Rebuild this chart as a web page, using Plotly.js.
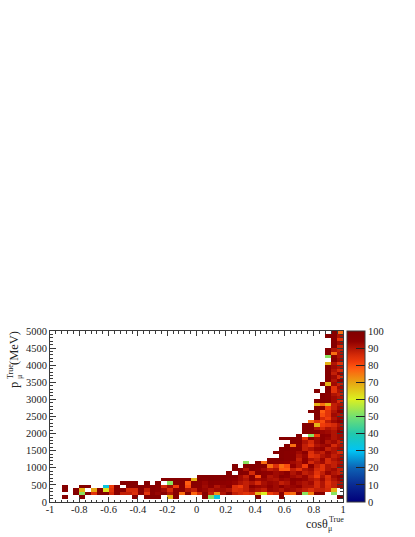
<!DOCTYPE html>
<html>
<head>
<meta charset="utf-8">
<script src="https://cdn.plot.ly/plotly-3.0.1.min.js"></script>
<style>
  html, body { margin: 0; padding: 0; background: #fff; }
  #chart { width: 415px; height: 537px; }
</style>
</head>
<body>
<div id="chart"></div>
<script>
// first filled column of each momentum bin (100 MeV bins, 50 cos bins)
const rowStart = [0, 2, 4, 2, 2, 12, 19, 25, 30, 31, 31, 33, 37, 39, 38, 39, 40, 41, 39, 42, 43, 43, 43, 44, 45,
  45, 44, 45, 45, 45, 46, 46, 45, 47, 46, 47, 47, 47, 47, 47, 47, 47, 47, 47, 47, 48, 48, 48, 47, 48];

// efficiency (%) per bin, null = empty bin
const rowValues = [
  [],
  [98,null,null,98,null,null,null,null,null,null,null,null,98,null,98,98,98,null,68,98,null,null,null,null,98,52,33,null,null,null,null,null,null,98,null,null,null,98,null,null,null,null,null,null,null,null,null,98],
  [98,52,98,84,98,99,86,97,88,88,85,97,84,96,93,96,90,97,76,98,77,86,97,88,72,90,98,88,86,84,86,68,60,82,86,97,78,76,97,52,74,97,97,null,52,null],
  [98,null,98,68,null,70,98,62,84,97,97,86,86,97,88,97,95,92,86,96,96,90,88,94,93,90,92,92,90,85,86,88,92,90,88,93,92,90,93,92,90,88,85,88,88,86,68,null],
  [98,null,null,98,98,null,null,33,82,97,null,98,98,98,95,98,96,86,92,82,97,80,96,96,92,95,90,93,96,85,82,88,96,93,92,94,92,96,92,93,94,90,90,86,90,85,88,92],
  [98,98,98,null,98,null,98,null,52,98,98,78,97,96,93,97,96,95,94,93,90,88,90,86,91,93,92,88,90,94,92,90,92,86,90,84,88,90],
  [98,98,98,98,98,68,98,97,99,98,97,96,94,92,90,96,92,93,91,90,93,92,96,94,93,90,88,92,86,90,93],
  [98,99,99,98,98,97,98,92,88,96,80,96,90,92,97,94,92,90,93,88,82,90,85,92,94],
  [98,null,98,97,86,98,95,94,92,93,96,90,93,88,90,84,88,93,90,88],
  [98,99,90,98,95,92,88,90,78,78,88,84,90,92,86,84,90,92,88],
  [98,null,98,98,97,98,76,85,76,80,94,90,82,96,88,84,90,88,92],
  [52,null,98,76,98,97,96,94,92,90,94,86,90,92,86,88,90],
  [98,98,99,97,96,88,94,90,88,93,86,90,92],
  [98,97,96,90,93,84,86,90,92,88,90],
  [98,98,97,95,92,96,85,90,88,93,90,86],
  [98,98,96,97,88,90,93,94,88,90,92],
  [98,76,95,88,84,90,92,93,86,90],
  [98,97,90,86,92,96,90,92,88],
  [98,98,98,97,84,95,92,96,93,90,92],
  [98,null,52,82,96,94,90,92],
  [98,98,97,93,92,90,94],
  [98,98,90,86,90,88,92],
  [98,98,68,82,84,86,90],
  [76,84,80,88,92,94],
  [98,86,82,90,93],
  [98,80,84,92,90],
  [98,98,78,84,90,94],
  [98,96,82,88,92],
  [68,76,68,88,90],
  [98,98,97,92,86],
  [98,96,92,90],
  [98,96,90,88],
  [98,null,98,84,90],
  [98,84,92],
  [98,68,92,88],
  [98,90,94],
  [98,92,86],
  [98,88,93],
  [98,90,86],
  [98,92,90],
  [68,90,84],
  [null,98,92],
  [52,95,90],
  [98,76,90],
  [98,90,88],
  [98,86],
  [98,92],
  [98,84],
  [98,97,90],
  [98,76]
];

const xTickVals = [-1, -0.8, -0.6, -0.4, -0.2, 0, 0.2, 0.4, 0.6, 0.8, 1];
const xTickText = ['-1', '-0.8', '-0.6', '-0.4', '-0.2', '0', '0.2', '0.4', '0.6', '0.8', '1'];
const yTickVals = [0, 500, 1000, 1500, 2000, 2500, 3000, 3500, 4000, 4500, 5000];

const palette = [
  [0, '#00007a'], [0.1, '#0a2a92'], [0.2, '#0d62b4'], [0.3, '#00c4f4'], [0.4, '#22c8ac'],
  [0.5, '#74e070'], [0.6, '#dcf020'], [0.7, '#e8a412'], [0.78, '#ff5c10'], [0.82, '#f03c0a'],
  [0.86, '#d42a08'], [0.9, '#b01404'], [0.94, '#900000'], [1, '#800000']
];

const nBins = 50;
const z = rowValues.map((vals, r) => {
  const row = new Array(nBins).fill(null);
  vals.forEach((v, i) => { row[rowStart[r] + i] = v; });
  return row;
});

const serif = '"Liberation Serif", "Times New Roman", serif';
const axisColor = '#3a3a3a';

const trace = {
  type: 'heatmap',
  z: z,
  x0: -0.98,
  dx: 0.04,
  y0: 50,
  dy: 100,
  zmin: 0,
  zmax: 100,
  colorscale: palette,
  hoverongaps: false,
  colorbar: {
    x: 1.0137,
    xanchor: 'left',
    xpad: 0,
    y: 0,
    yanchor: 'bottom',
    ypad: 0,
    len: 1,
    thickness: 18,
    tickvals: [0, 10, 20, 30, 40, 50, 60, 70, 80, 90, 100],
    ticks: 'inside',
    ticklen: 9,
    tickcolor: '#222',
    outlinecolor: axisColor,
    outlinewidth: 1,
    tickfont: { family: serif, size: 10.5, color: '#222' }
  }
};

// place a text by its pixel position on the page
function label(text, px, py, size, angle) {
  return {
    text: text,
    xref: 'paper',
    yref: 'paper',
    x: (px - 50) / 293,
    y: (502 - py) / 171,
    xanchor: 'center',
    yanchor: 'middle',
    showarrow: false,
    textangle: angle || 0,
    borderpad: 0,
    font: { family: serif, size: size, color: '#222' }
  };
}

const layout = {
  width: 415,
  height: 537,
  margin: { l: 50, r: 72, t: 331, b: 35 },
  paper_bgcolor: '#fff',
  plot_bgcolor: '#fff',
  showlegend: false,
  xaxis: {
    range: [-1, 1],
    tickmode: 'array',
    tickvals: xTickVals,
    ticktext: xTickText,
    ticks: 'inside',
    ticklen: 5,
    tickcolor: axisColor,
    ticklabelstandoff: -3,
    tickfont: { family: serif, size: 10.5, color: '#222' },
    minor: { dtick: 0.04, tick0: -1, ticks: 'inside', ticklen: 2.5, tickcolor: axisColor },
    showgrid: false,
    zeroline: false,
    showline: true,
    linecolor: axisColor,
    mirror: 'allticks'
  },
  yaxis: {
    range: [0, 5000],
    tickmode: 'array',
    tickvals: yTickVals,
    ticks: 'inside',
    ticklen: 6,
    tickcolor: axisColor,
    tickformat: 'd',
    tickfont: { family: serif, size: 10.5, color: '#222' },
    minor: { dtick: 100, tick0: 0, ticks: 'inside', ticklen: 3, tickcolor: axisColor },
    showgrid: false,
    zeroline: false,
    showline: true,
    linecolor: axisColor,
    mirror: 'allticks'
  },
  annotations: [
    label('cosθ', 317, 524, 12),
    label('True', 336, 519, 8),
    label('μ', 330, 528, 8),
    label('(MeV)', 14, 348, 12.5, -90),
    label('p', 14, 385, 12.5, -90),
    label('True', 10, 372, 8, -90),
    label('μ', 19, 377, 8, -90)
  ]
};

Plotly.newPlot('chart', [trace], layout, { displayModeBar: false, staticPlot: true });
</script>
</body>
</html>
